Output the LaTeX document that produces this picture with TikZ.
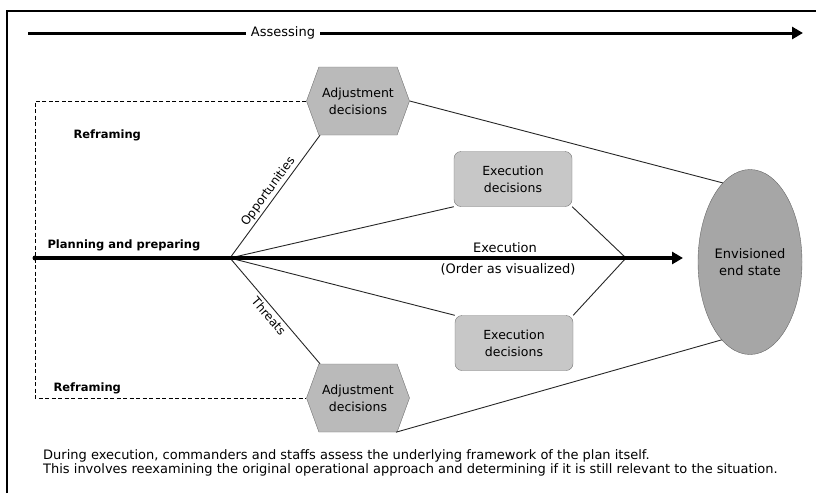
\documentclass[tikz,border=0pt]{standalone}
\usepackage{fontspec}
\setmainfont{DejaVu Sans}
\usetikzlibrary{arrows.meta,positioning,calc,shapes.geometric,shapes.symbols}

\begin{document}
\begin{tikzpicture}[x=1pt,y=-1pt,
  lbl/.style={font=\fontsize{13}{17}\selectfont},
  boldlbl/.style={font=\fontsize{11.5}{15}\selectfont\bfseries},
  adjbox/.style={signal, signal to=east and west, signal pointer angle=140,
    draw=black!55, fill=black!27, minimum width=103pt, minimum height=68pt,
    inner sep=0pt, align=center, font=\fontsize{12.5}{17}\selectfont},
  execbox/.style={rectangle, rounded corners=7pt, draw=black!55, fill=black!22,
    minimum width=118pt, minimum height=55pt, align=center,
    font=\fontsize{12.5}{17}\selectfont},
  goal/.style={ellipse, draw=black!60, fill=black!35, minimum width=104pt,
    minimum height=185pt, inner sep=0pt, align=center,
    font=\fontsize{13}{17}\selectfont},
  link/.style={draw=black!85, line width=0.9pt},
  flow/.style={line width=3.5pt, -{Triangle[length=11pt,width=12pt]}},
]
\useasboundingbox (0,0) rectangle (816,493);
% frame
\draw[line width=2pt] (7,493) -- (7,11) -- (816,11);
% assessing runs across the top
\coordinate (assessFrom) at (28,33);
\coordinate (assessTo) at (803,33);
\draw[flow, line width=3pt] (assessFrom) -- (assessTo)
  node[lbl, pos=0.329, fill=white, inner xsep=5pt] (assessLbl) {Assessing};
% decisions and end state
\node[adjbox] (adjTop) at (358,101) {Adjustment\\decisions};
\node[adjbox] (adjBot) at (358,398) {Adjustment\\decisions};
\node[execbox] (execTop) at (513,179) {Execution\\decisions};
\node[execbox] (execBot) at (514,343) {Execution\\decisions};
\node[goal] (endState) at (750,262) {Envisioned\\end state};
% points on the main line
\coordinate (start) at (35,258);
\coordinate (fork) at (230,258);
\coordinate (merge) at (626,258);
\coordinate (mainEnd) at (683,258);
% reframing loop
\draw[dashed, line width=0.9pt, dash pattern=on 4pt off 2.5pt]
  (adjTop.west) -- (adjTop.west -| start) -- (adjBot.west -| start) -- (adjBot.west);
% branches
\draw[link] (fork) -- (adjTop.222)
  node[midway, sloped, above, inner sep=2pt, font=\fontsize{12}{14}\selectfont] (oppLbl) {Opportunities};
\draw[link] (fork) -- (adjBot.138)
  node[midway, sloped, below, inner sep=3pt, font=\fontsize{12}{14}\selectfont] (threatLbl) {Threats};
\draw[link] (fork) -- (execTop.south west);
\draw[link] (fork) -- (execBot.north west);
\draw[link] (execTop.south east) -- (merge);
\draw[link] (execBot.north east) -- (merge);
\draw[link] (adjTop.east) -- (endState.109);
\draw[link] (adjBot.318) -- (endState.250);
% main line
\draw[flow] (start) -- (mainEnd);
\fill (start) circle (2.5pt);
% labels
\node[boldlbl, anchor=west] (reframeTop) at (70,135) {Reframing};
\node[boldlbl, anchor=west] (reframeBot) at (50,388) {Reframing};
\node[boldlbl, anchor=west] (planLbl) at (44,245) {Planning and preparing};
\node[lbl] (execLbl) at (505,248) {Execution};
\node[lbl] (orderLbl) at (508,269) {(Order as visualized)};
\node[lbl, anchor=base west, inner sep=0pt] (noteOne) at (43,459.5)
  {During execution, commanders and staffs assess the underlying framework of the plan itself.};
\node[lbl, anchor=base west, inner sep=0pt] (noteTwo) at (43,473.5)
  {This involves reexamining the original operational approach and determining if it is still relevant to the situation.};
\end{tikzpicture}
\end{document}
